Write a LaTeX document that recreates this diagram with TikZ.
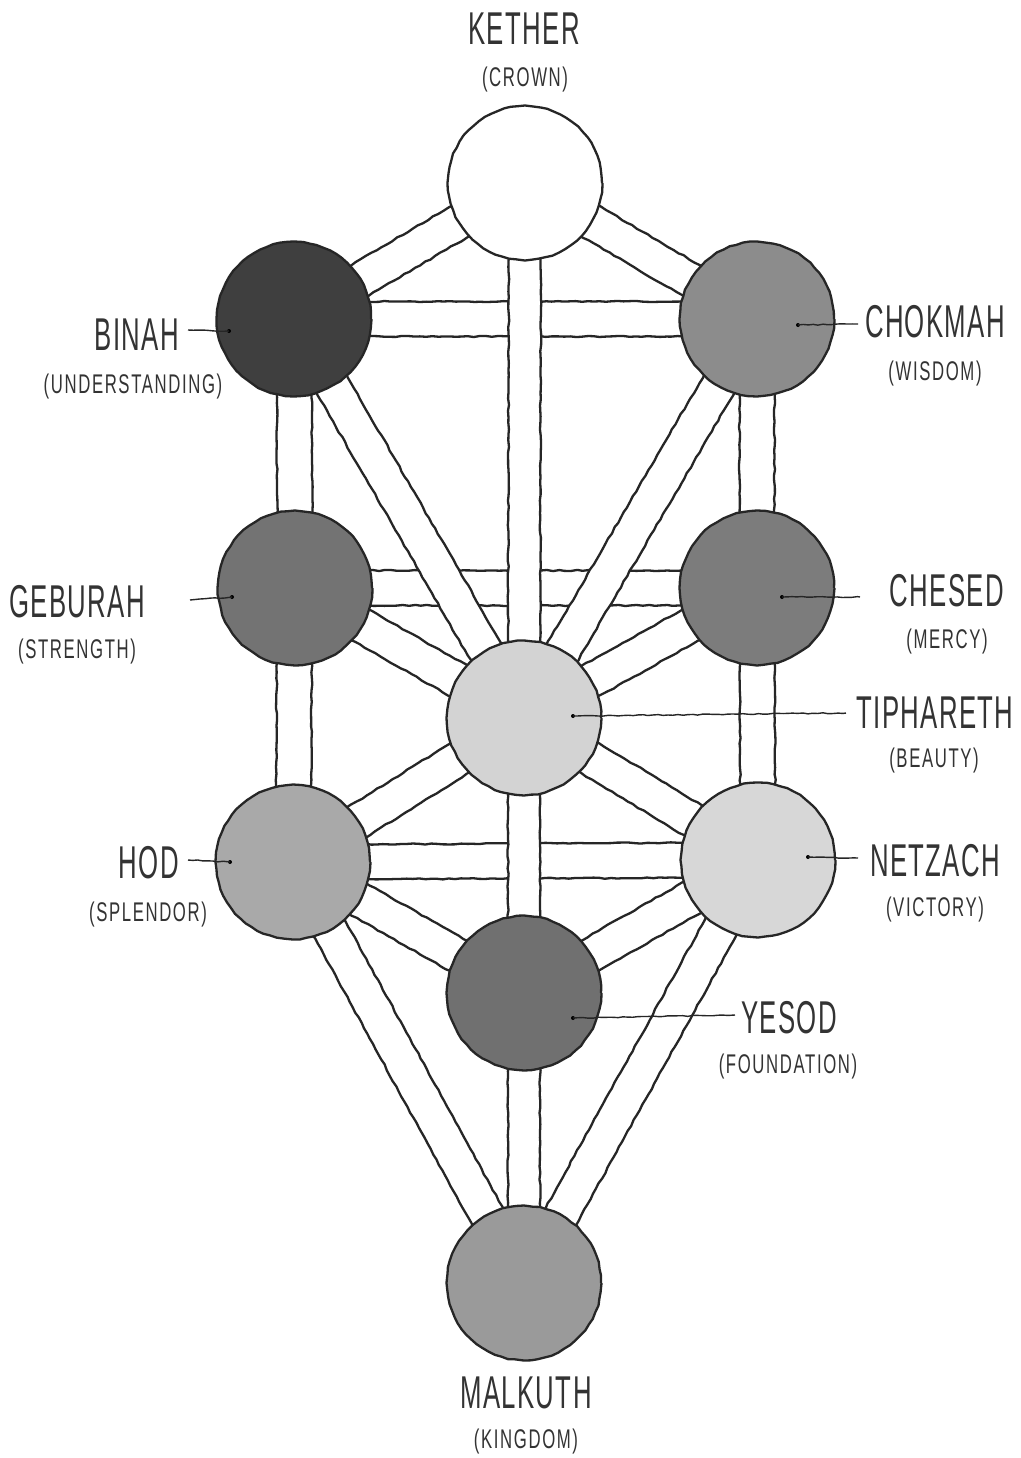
\documentclass[tikz,border=0pt]{standalone}
\usepackage{fontspec}
\usetikzlibrary{calc,decorations.pathmorphing}
\newfontfamily\namefont[FakeStretch=0.56,LetterSpace=3]{Liberation Sans}
\newfontfamily\subfont[FakeStretch=0.62,LetterSpace=6]{Liberation Sans}
\definecolor{cKe}{HTML}{FFFFFF}
\definecolor{cBi}{HTML}{3F3F3F}
\definecolor{cCh}{HTML}{8C8C8C}
\definecolor{cGe}{HTML}{737373}
\definecolor{cCs}{HTML}{7C7C7C}
\definecolor{cTi}{HTML}{D3D3D3}
\definecolor{cHo}{HTML}{A9A9A9}
\definecolor{cNe}{HTML}{D7D7D7}
\definecolor{cYe}{HTML}{707070}
\definecolor{cMa}{HTML}{9A9A9A}
\newcommand\chfill[3][17.5pt]{\fill[white] ($(#2)!#1!90:(#3)$) -- ($(#3)!#1!-90:(#2)$) -- ($(#3)!#1!90:(#2)$) -- ($(#2)!#1!-90:(#3)$) -- cycle;}
\newcommand\chlines[3][17.5pt]{\draw[pline] ($(#2)!#1!90:(#3)$) -- ($(#3)!#1!-90:(#2)$); \draw[pline] ($(#2)!#1!-90:(#3)$) -- ($(#3)!#1!90:(#2)$);}
\begin{document}
\begin{tikzpicture}[x=1pt,y=-1pt,
  pline/.style={line width=2.3pt, draw=black!85, line cap=round, decorate, decoration={random steps,segment length=6pt,amplitude=0.6pt}},
  sephira/.style={circle, draw=black!85, line width=2.3pt, minimum size=154pt, inner sep=0pt, decorate, decoration={random steps,segment length=7pt,amplitude=0.5pt}},
  leader/.style={line width=1.4pt, draw=black!85, decorate, decoration={random steps,segment length=5pt,amplitude=0.5pt}},
  dotm/.style={circle, fill=black, inner sep=0pt, minimum size=4pt},
  title/.style={font=\namefont\fontsize{46}{46}\selectfont, anchor=base, inner sep=0pt, text=black!80},
  sub/.style={font=\subfont\fontsize{27}{27}\selectfont, anchor=base, inner sep=0pt, text=black!80}]
\useasboundingbox[fill=white] (0,0) rectangle (1020,1458);

% centres
\coordinate (K)  at (525,183);
\coordinate (Bi) at (294,319);
\coordinate (Ch) at (757,319);
\coordinate (Ge) at (295,588);
\coordinate (Cs) at (757,588);
\coordinate (Ti) at (524,718);
\coordinate (Ho) at (293,862);
\coordinate (Ne) at (758,860);
\coordinate (Ye) at (524,993);
\coordinate (Ma) at (524,1283);

% layer 1: horizontal paths (passing under)
\chfill{Bi}{Ch} \chfill{Ge}{Cs} \chfill{Ho}{Ne}
\chlines{Bi}{Ch} \chlines{Ge}{Cs} \chlines{Ho}{Ne}

% layer 2: all other paths
\chfill{K}{Bi} \chfill{K}{Ch} \chfill[16pt]{K}{Ti}
\chfill{Bi}{Ge} \chfill{Bi}{Ti} \chfill{Ch}{Ti} \chfill{Ch}{Cs}
\chfill{Ge}{Ti} \chfill{Ge}{Ho} \chfill{Cs}{Ti} \chfill{Cs}{Ne}
\chfill{Ti}{Ho} \chfill{Ti}{Ne} \chfill[16pt]{Ti}{Ye}
\chfill{Ho}{Ye} \chfill{Ho}{Ma} \chfill{Ne}{Ye} \chfill{Ne}{Ma} \chfill[16pt]{Ye}{Ma}

\chlines{K}{Bi} \chlines{K}{Ch} \chlines[16pt]{K}{Ti}
\chlines{Bi}{Ge} \chlines{Bi}{Ti} \chlines{Ch}{Ti} \chlines{Ch}{Cs}
\chlines{Ge}{Ti} \chlines{Ge}{Ho} \chlines{Cs}{Ti} \chlines{Cs}{Ne}
\chlines{Ti}{Ho} \chlines{Ti}{Ne} \chlines[16pt]{Ti}{Ye}
\chlines{Ho}{Ye} \chlines{Ho}{Ma} \chlines{Ne}{Ye} \chlines{Ne}{Ma} \chlines[16pt]{Ye}{Ma}

% sephiroth
\node[sephira, fill=cKe] (kether)    at (K)  {};
\node[sephira, fill=cBi] (binah)     at (Bi) {};
\node[sephira, fill=cCh] (chokmah)   at (Ch) {};
\node[sephira, fill=cGe] (geburah)   at (Ge) {};
\node[sephira, fill=cCs] (chesed)    at (Cs) {};
\node[sephira, fill=cTi] (tiphareth) at (Ti) {};
\node[sephira, fill=cHo] (hod)       at (Ho) {};
\node[sephira, fill=cNe] (netzach)   at (Ne) {};
\node[sephira, fill=cYe] (yesod)     at (Ye) {};
\node[sephira, fill=cMa] (malkuth)   at (Ma) {};

% leaders
\node[dotm] (dBi) at (229,331) {};  \coordinate (eBi) at (188,330);
\node[dotm] (dCh) at (798,325) {};  \coordinate (eCh) at (858,324);
\node[dotm] (dGe) at (232,597) {};  \coordinate (eGe) at (190,600);
\node[dotm] (dCs) at (782,597) {};  \coordinate (eCs) at (860,597);
\node[dotm] (dTi) at (573,716) {};  \coordinate (eTi) at (846,713);
\node[dotm] (dHo) at (230,862) {};  \coordinate (eHo) at (188,860);
\node[dotm] (dNe) at (808,857) {};  \coordinate (eNe) at (858,858);
\node[dotm] (dYe) at (573,1018) {}; \coordinate (eYe) at (735,1015);
\draw[leader] (eBi) -- (dBi.center);
\draw[leader] (dCh.center) -- (eCh);
\draw[leader] (eGe) -- (dGe.center);
\draw[leader] (dCs.center) -- (eCs);
\draw[leader] (dTi.center) -- (eTi);
\draw[leader] (eHo) -- (dHo.center);
\draw[leader] (dNe.center) -- (eNe);
\draw[leader] (dYe.center) -- (eYe);

% labels
\node[title] (tKe) at (524,45)   {KETHER};
\node[sub]   (sKe) at (525,87)   {(CROWN)};
\node[title] (tBi) at (137,350)  {BINAH};
\node[sub]   (sBi) at (133,393)  {(UNDERSTANDING)};
\node[title] (tCh) at (935,337)  {CHOKMAH};
\node[sub]   (sCh) at (935,380)  {(WISDOM)};
\node[title] (tGe) at (77,617)   {GEBURAH};
\node[sub]   (sGe) at (77,658)   {(STRENGTH)};
\node[title] (tCs) at (947,606)  {CHESED};
\node[sub]   (sCs) at (947,648)  {(MERCY)};
\node[title] (tTi) at (935,728)  {TIPHARETH};
\node[sub]   (sTi) at (934,767)  {(BEAUTY)};
\node[title] (tHo) at (149,878)  {HOD};
\node[sub]   (sHo) at (148,921)  {(SPLENDOR)};
\node[title] (tNe) at (935,876)  {NETZACH};
\node[sub]   (sNe) at (935,916)  {(VICTORY)};
\node[title] (tYe) at (789,1033) {YESOD};
\node[sub]   (sYe) at (788,1073) {(FOUNDATION)};
\node[title] (tMa) at (526,1408) {MALKUTH};
\node[sub]   (sMa) at (526,1448) {(KINGDOM)};
\end{tikzpicture}
\end{document}
